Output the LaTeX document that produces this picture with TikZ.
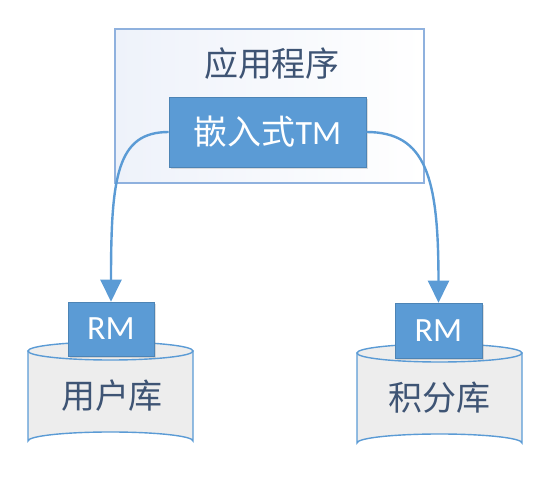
\documentclass[tikz,border=0pt]{standalone}
\usepackage{fontspec}
\setmainfont{Carlito}
\newfontfamily\cjk{Noto Sans CJK SC}
\usetikzlibrary{arrows.meta,shadows}
\definecolor{accent}{RGB}{91,155,213}
\definecolor{frameblue}{RGB}{143,177,222}
\definecolor{paleblue}{RGB}{238,242,250}
\definecolor{slate}{RGB}{62,84,116}
\definecolor{cylgray}{RGB}{237,237,237}
\tikzset{
  bluebox/.style={draw=accent!85!black, line width=0.6pt, fill=accent, text=white,
    inner sep=0pt, font=\fontsize{34}{38}\selectfont,
    drop shadow={shadow xshift=2pt, shadow yshift=-2pt, opacity=0.25}},
  label/.style={text=slate, font=\fontsize{34}{38}\selectfont\cjk, inner sep=0pt},
  conn/.style={draw=accent, line width=2.4pt, -{Triangle[length=22pt,width=21pt]}},
  cyl/.style={draw=accent, line width=1.4pt, fill=cylgray}
}
\begin{document}
\begin{tikzpicture}[x=1pt,y=-1pt]
\useasboundingbox (0,0) rectangle (550,486);
% application frame
\node[draw=frameblue, line width=1.6pt, left color=paleblue, right color=white,
      minimum width=309pt, minimum height=154pt, inner sep=0pt] (app) at (269.5,106) {};
\node[label] (apptitle) at (272,64) {应用程序};
\node[bluebox, minimum width=197pt, minimum height=70pt] (tm) at (267.5,132) {{\cjk 嵌入式}TM};
% cylinders
\path[cyl] (28,351) -- (28,441) arc[start angle=180, end angle=360, x radius=82.5, y radius=9] -- (193,351) -- cycle;
\draw[cyl] (110.5,351) ellipse[x radius=82.5, y radius=9];
\path[cyl] (357,353) -- (357,443) arc[start angle=180, end angle=360, x radius=82.5, y radius=9] -- (522,353) -- cycle;
\draw[cyl] (439.5,353) ellipse[x radius=82.5, y radius=9];
\node[label] (db1) at (112,396) {用户库};
\node[label] (db2) at (439,398) {积分库};
\node[bluebox, minimum width=86pt, minimum height=54pt] (rm1) at (111,329) {RM};
\node[bluebox, minimum width=87pt, minimum height=55pt] (rm2) at (438.5,330.5) {RM};
% connectors
\draw[conn] (tm.west) .. controls +(-52,0) and +(0,-125) .. (rm1.north);
\draw[conn] (tm.east) .. controls +(60,0) and +(0,-125) .. (rm2.north);
\end{tikzpicture}
\end{document}
